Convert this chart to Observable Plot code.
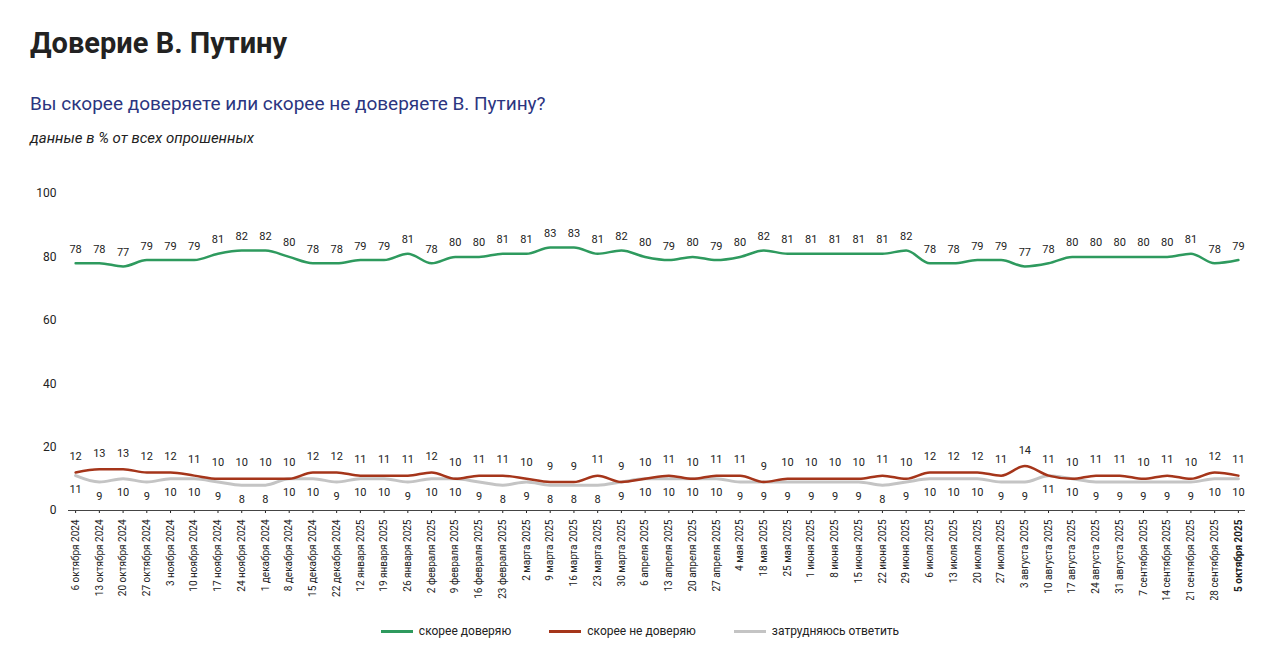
<!DOCTYPE html>
<html><head><meta charset="utf-8">
<script src="https://cdn.jsdelivr.net/npm/d3@7"></script>
<script src="https://cdn.jsdelivr.net/npm/@observablehq/plot@0.6"></script>
<style>
body{margin:0;background:#fff;font-family:"Liberation Sans Narrow","Roboto","DejaVu Sans Condensed",sans-serif;width:1280px;height:668px;position:relative;overflow:hidden}
#t{position:absolute;left:30px;top:26px;font-size:29px;font-weight:bold;color:#222}
#s{position:absolute;left:30px;top:92px;font-size:19px;color:#2b3580}
#n{position:absolute;left:30px;top:129px;font-size:15px;font-style:italic;color:#222}
#c{position:absolute;left:0;top:180px}
#l{position:absolute;top:624px;left:0;width:1280px;display:flex;justify-content:center;gap:38px;font-size:12px;color:#222}
#l span{display:flex;align-items:center;gap:6px}
#l i{display:inline-block;width:32px;height:3px}
</style></head><body>
<div id="t">Доверие В. Путину</div>
<div id="s">Вы скорее доверяете или скорее не доверяете В. Путину?</div>
<div id="n">данные в % от всех опрошенных</div>
<div id="c"></div>
<div id="l"><span><i style="background:#2e9a5e"></i>скорее доверяю</span><span><i style="background:#a5351a"></i>скорее не доверяю</span><span><i style="background:#c4c4c4"></i>затрудняюсь ответить</span></div>
<script>
const dates=["6 октября 2024","13 октября 2024","20 октября 2024","27 октября 2024","3 ноября 2024","10 ноября 2024","17 ноября 2024","24 ноября 2024","1 декабря 2024","8 декабря 2024","15 декабря 2024","22 декабря 2024","12 января 2025","19 января 2025","26 января 2025","2 февраля 2025","9 февраля 2025","16 февраля 2025","23 февраля 2025","2 марта 2025","9 марта 2025","16 марта 2025","23 марта 2025","30 марта 2025","6 апреля 2025","13 апреля 2025","20 апреля 2025","27 апреля 2025","4 мая 2025","18 мая 2025","25 мая 2025","1 июня 2025","8 июня 2025","15 июня 2025","22 июня 2025","29 июня 2025","6 июля 2025","13 июля 2025","20 июля 2025","27 июля 2025","3 августа 2025","10 августа 2025","17 августа 2025","24 августа 2025","31 августа 2025","7 сентября 2025","14 сентября 2025","21 сентября 2025","28 сентября 2025","5 октября 2025"];
const trust=[78,78,77,79,79,79,81,82,82,80,78,78,79,79,81,78,80,80,81,81,83,83,81,82,80,79,80,79,80,82,81,81,81,81,81,82,78,78,79,79,77,78,80,80,80,80,80,81,78,79];
const distrust=[12,13,13,12,12,11,10,10,10,10,12,12,11,11,11,12,10,11,11,10,9,9,11,9,10,11,10,11,11,9,10,10,10,10,11,10,12,12,12,11,14,11,10,11,11,10,11,10,12,11];
const unsure=[11,9,10,9,10,10,9,8,8,10,10,9,10,10,9,10,10,9,8,9,8,8,8,9,10,10,10,10,9,9,9,9,9,9,8,9,10,10,10,9,9,11,10,9,9,9,9,9,10,10];
const G="#2e9a5e",R="#a5351a",S="#c4c4c4";
const rows=(v,k)=>dates.map((d,i)=>({d,v:v[i],k,i,last:i===dates.length-1}));
const T=rows(trust,"t"),D=rows(distrust,"d"),U=rows(unsure,"u");
const hi=dates.map((d,i)=>({d,v:Math.max(distrust[i],unsure[i]),last:i===dates.length-1}));
const lo=dates.map((d,i)=>({d,v:Math.min(distrust[i],unsure[i]),last:i===dates.length-1}));
const txt=(data,dy)=>Plot.text(data,{x:"d",y:"v",text:"v",dy,fontSize:11,fill:"#222",fontWeight:d=>d.last?"bold":"normal"});
const p=Plot.plot({width:1280,height:420,marginLeft:68,marginRight:35,marginTop:13,marginBottom:90,
 style:{fontFamily:"'Liberation Sans Narrow',Roboto,sans-serif",fontSize:"11px",color:"#222"},
 x:{type:"point",domain:dates,label:null,padding:0.3},
 y:{domain:[0,100],ticks:[0,20,40,60,80,100],label:null},
 marks:[
  Plot.axisY({ticks:[0,20,40,60,80,100],tickSize:0,tickPadding:12,fontSize:12,label:null}),
  Plot.axisX({tickRotate:-90,tickSize:3,label:null,fontSize:10,tickFormat:d=>d}),
  Plot.ruleY([0],{stroke:"#444"}),
  Plot.line(U,{x:"d",y:"v",stroke:S,strokeWidth:3,curve:"monotone-x"}),
  Plot.line(D,{x:"d",y:"v",stroke:R,strokeWidth:2.5,curve:"monotone-x"}),
  Plot.line(T,{x:"d",y:"v",stroke:G,strokeWidth:2.5,curve:"monotone-x"}),
  txt(T,-14),txt(hi,-16),txt(lo,14)
 ]});
p.querySelectorAll("g[aria-label='x-axis tick label'] text").forEach((t,i,a)=>{if(i===a.length-1)t.setAttribute("font-weight","bold")});
document.getElementById("c").append(p);
</script></body></html>
